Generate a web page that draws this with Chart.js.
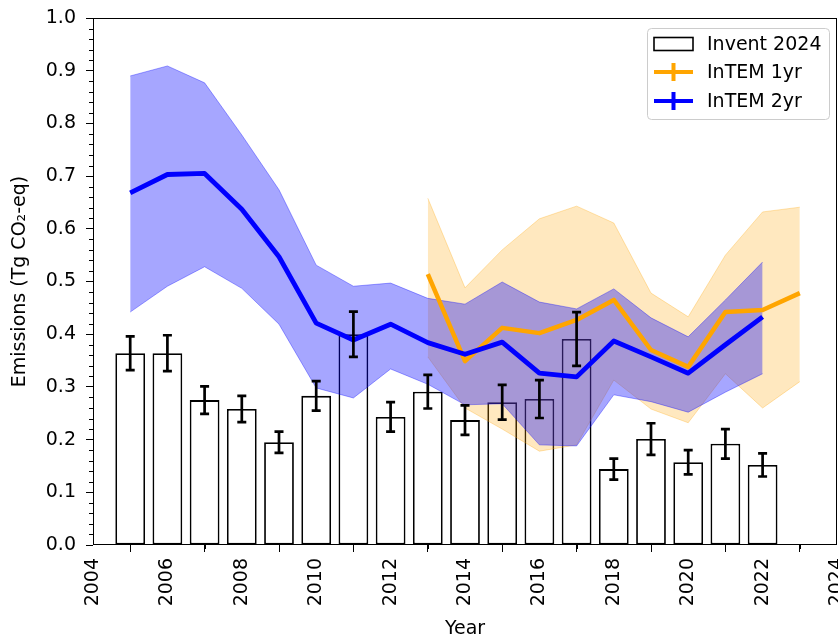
<!DOCTYPE html>
<html>
<head>
<meta charset="utf-8">
<title>Emissions</title>
<script src="https://cdn.jsdelivr.net/npm/chart.js"></script>
<style>
  html, body { margin: 0; padding: 0; background: #fff; }
</style>
</head>
<body>
<canvas id="emChart" width="838" height="641"></canvas>
<script>
  // Inventory (bars with uncertainty)
  const inventYears  = [2005, 2006, 2007, 2008, 2009, 2010, 2011, 2012, 2013, 2014, 2015, 2016, 2017, 2018, 2019, 2020, 2021, 2022];
  const inventValues = [0.364, 0.364, 0.275, 0.258, 0.195, 0.283, 0.400, 0.243, 0.291, 0.237, 0.271, 0.277, 0.391, 0.144, 0.201, 0.157, 0.192, 0.152];
  const inventErrors = [0.032, 0.034, 0.026, 0.025, 0.020, 0.028, 0.043, 0.028, 0.032, 0.028, 0.033, 0.036, 0.051, 0.020, 0.030, 0.023, 0.028, 0.022];

  // InTEM 2-year inversion
  const intem2Years = inventYears;
  const intem2Mean  = [0.668, 0.703, 0.705, 0.637, 0.547, 0.421, 0.389, 0.419, 0.384, 0.362, 0.385, 0.326, 0.319, 0.387, 0.357, 0.326, 0.380, 0.433];
  const intem2Upper = [0.890, 0.909, 0.877, 0.778, 0.674, 0.531, 0.491, 0.497, 0.468, 0.457, 0.499, 0.461, 0.448, 0.486, 0.431, 0.395, 0.465, 0.537];
  const intem2Lower = [0.442, 0.491, 0.528, 0.487, 0.419, 0.298, 0.279, 0.334, 0.305, 0.266, 0.268, 0.190, 0.188, 0.285, 0.272, 0.252, 0.290, 0.325];

  // InTEM 1-year inversion
  const intem1Years = [2013, 2014, 2015, 2016, 2017, 2018, 2019, 2020, 2021, 2022, 2023];
  const intem1Mean  = [0.514, 0.349, 0.412, 0.402, 0.427, 0.465, 0.370, 0.338, 0.442, 0.446, 0.478];
  const intem1Upper = [0.658, 0.488, 0.560, 0.619, 0.643, 0.611, 0.478, 0.433, 0.550, 0.632, 0.641];
  const intem1Lower = [0.357, 0.260, 0.220, 0.178, 0.190, 0.313, 0.258, 0.232, 0.325, 0.260, 0.310];

  const xTickYears = [2004, 2006, 2008, 2010, 2012, 2014, 2016, 2018, 2020, 2022, 2024];
  const yTicks = [0, 0.1, 0.2, 0.3, 0.4, 0.5, 0.6, 0.7, 0.8, 0.9, 1.0];

  const legendItems = [
    { label: 'Invent 2024', kind: 'box' },
    { label: 'InTEM 1yr', kind: 'line', color: '#ffa500' },
    { label: 'InTEM 2yr', kind: 'line', color: '#0000ff' }
  ];

  const pts = (xs, ys) => xs.map((x, i) => ({ x: x, y: ys[i] }));

  Chart.defaults.font.family = "'DejaVu Sans', sans-serif";
  Chart.defaults.font.size = 19;
  Chart.defaults.color = '#000';

  // black error bars on top of the inventory bars
  const errorBars = {
    id: 'errorBars',
    afterDatasetsDraw(chart) {
      const { ctx, scales: { x, y } } = chart;
      ctx.save();
      ctx.strokeStyle = '#000';
      ctx.lineWidth = 2.7;
      inventYears.forEach((yr, i) => {
        const px = x.getPixelForValue(yr);
        const lo = y.getPixelForValue(inventValues[i] - inventErrors[i]);
        const hi = y.getPixelForValue(inventValues[i] + inventErrors[i]);
        ctx.beginPath();
        ctx.moveTo(px, lo); ctx.lineTo(px, hi);
        ctx.moveTo(px - 4.5, lo); ctx.lineTo(px + 4.5, lo);
        ctx.moveTo(px - 4.5, hi); ctx.lineTo(px + 4.5, hi);
        ctx.stroke();
      });
      ctx.restore();
    }
  };

  // axes frame plus minor ticks
  const frame = {
    id: 'frame',
    afterDraw(chart) {
      const { ctx, chartArea: a, scales: { x, y } } = chart;
      ctx.save();
      ctx.strokeStyle = '#000';
      ctx.lineWidth = 1;
      ctx.beginPath();
      for (let i = 1; i < 50; i++) {
        if (i % 5 === 0) continue;
        const py = Math.round(y.getPixelForValue(i / 50)) + 0.5;
        ctx.moveTo(a.left - 4, py); ctx.lineTo(a.left, py);
      }
      for (let yr = 2005; yr < 2024; yr += 2) {
        const px = Math.round(x.getPixelForValue(yr)) + 0.5;
        ctx.moveTo(px, a.bottom); ctx.lineTo(px, a.bottom + 4);
      }
      ctx.stroke();
      ctx.strokeRect(a.left + 0.5, a.top + 0.5, a.width - 1, a.height - 1);
      ctx.restore();
    }
  };

  const boxLegend = {
    id: 'boxLegend',
    afterDraw(chart) {
      const { ctx, chartArea: a } = chart;
      const w = 182, h = 91;
      const left = a.right - 8 - w, top = a.top + 10;
      ctx.save();
      ctx.fillStyle = 'rgba(255,255,255,0.8)';
      ctx.strokeStyle = '#cccccc';
      ctx.lineWidth = 1;
      ctx.beginPath();
      ctx.roundRect(left + 0.5, top + 0.5, w, h, 4);
      ctx.fill();
      ctx.stroke();
      const rows = [16, 44, 73];
      legendItems.forEach((item, i) => {
        const cy = top + rows[i];
        const x0 = left + 7, x1 = left + 46;
        if (item.kind === 'box') {
          ctx.fillStyle = '#fff';
          ctx.strokeStyle = '#000';
          ctx.lineWidth = 1.6;
          ctx.fillRect(x0, cy - 6.5, x1 - x0, 13);
          ctx.strokeRect(x0, cy - 6.5, x1 - x0, 13);
        } else {
          ctx.strokeStyle = item.color;
          ctx.lineWidth = 4;
          ctx.beginPath();
          ctx.moveTo(x0, cy); ctx.lineTo(x1, cy);
          ctx.moveTo((x0 + x1) / 2, cy - 9); ctx.lineTo((x0 + x1) / 2, cy + 9);
          ctx.stroke();
        }
        ctx.fillStyle = '#000';
        ctx.font = "19px 'DejaVu Sans', sans-serif";
        ctx.textBaseline = 'middle';
        ctx.textAlign = 'left';
        ctx.fillText(item.label, left + 60, cy + 1);
      });
      ctx.restore();
    }
  };

  const bandLine = (data, color) => ({
    data: data, borderColor: color, borderWidth: 1, pointRadius: 0, tension: 0
  });

  new Chart(document.getElementById('emChart'), {
    type: 'line',
    data: {
      datasets: [
        {
          type: 'bar', label: 'Invent 2024', data: pts(inventYears, inventValues),
          backgroundColor: '#fff', borderColor: '#000', borderWidth: 1.8, borderSkipped: false,
          barPercentage: 0.8, categoryPercentage: 1, order: 7
        },
        Object.assign(bandLine(pts(intem1Years, intem1Lower), 'rgba(255,165,0,0.3)'), { fill: false, order: 6 }),
        Object.assign(bandLine(pts(intem1Years, intem1Upper), 'rgba(255,165,0,0.3)'), { fill: '-1', backgroundColor: 'rgba(255,165,0,0.25)', order: 5 }),
        Object.assign(bandLine(pts(intem2Years, intem2Lower), 'rgba(0,0,255,0.35)'), { fill: false, order: 4 }),
        Object.assign(bandLine(pts(intem2Years, intem2Upper), 'rgba(0,0,255,0.35)'), { fill: '-1', backgroundColor: 'rgba(0,0,255,0.35)', order: 3 }),
        {
          label: 'InTEM 1yr', data: pts(intem1Years, intem1Mean), borderColor: '#ffa500',
          borderWidth: 4.5, pointRadius: 0, tension: 0, fill: false, borderJoinStyle: 'round', order: 2
        },
        {
          label: 'InTEM 2yr', data: pts(intem2Years, intem2Mean), borderColor: '#0000ff',
          borderWidth: 4.8, pointRadius: 0, tension: 0, fill: false, borderJoinStyle: 'round', order: 1
        }
      ]
    },
    options: {
      responsive: false,
      animation: false,
      layout: { padding: { top: 18, right: 1, left: 0, bottom: 0 } },
      plugins: { legend: { display: false }, tooltip: { enabled: false } },
      scales: {
        x: {
          type: 'linear', min: 2004, max: 2024, offset: false,
          afterBuildTicks: s => { s.ticks = xTickYears.map(v => ({ value: v })); },
          afterFit: s => { s.height = 96; s.paddingLeft = 0; s.paddingRight = 0; },
          ticks: { autoSkip: false, minRotation: 90, maxRotation: 90, padding: 6, callback: v => String(v) },
          grid: { drawOnChartArea: false, drawTicks: true, tickLength: 7, color: '#000' },
          border: { display: false },
          title: { display: true, text: 'Year', padding: { top: 0, bottom: 1 } }
        },
        y: {
          min: 0, max: 1,
          afterBuildTicks: s => { s.ticks = yTicks.map(v => ({ value: v })); },
          afterFit: s => { s.width = 93; s.paddingTop = 0; s.paddingBottom = 0; },
          ticks: { padding: 10, callback: v => v.toFixed(1) },
          grid: { drawOnChartArea: false, drawTicks: true, tickLength: 7, color: '#000' },
          border: { display: false },
          title: { display: true, text: 'Emissions (Tg CO\u2082-eq)', padding: { top: 9, bottom: 0 } }
        }
      }
    },
    plugins: [errorBars, frame, boxLegend]
  });
</script>
</body>
</html>
